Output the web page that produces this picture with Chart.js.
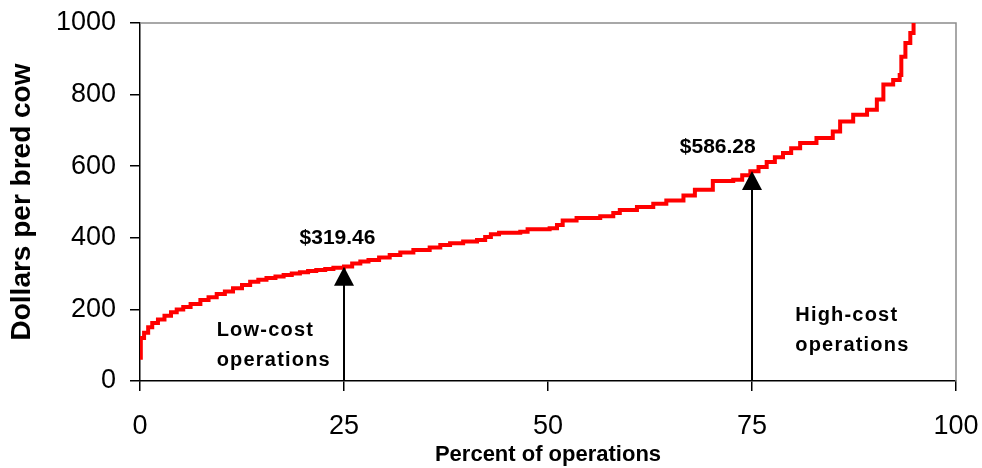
<!DOCTYPE html>
<html>
<head>
<meta charset="utf-8">
<script src="https://cdn.jsdelivr.net/npm/chart.js@4/dist/chart.umd.min.js"></script>
<style>
  html, body { margin: 0; padding: 0; background: #fff; }
  #wrap { width: 982px; height: 468px; }
</style>
</head>
<body>
<div id="wrap"><canvas id="chart"></canvas></div>
<script>
// percent of operations (sorted by cost) and cost per bred cow
const pctOps = [0, 0.1, 0.5, 1.0, 1.5, 2.2, 3.0, 3.8, 4.5, 5.3, 6.2, 7.4, 8.4, 9.4, 10.4, 11.4, 12.5,
  13.5, 14.5, 15.5, 16.6, 17.6, 18.6, 19.6, 20.6, 21.6, 22.7, 23.7, 25.0, 26.0, 27.0, 28.0, 29.3,
  30.6, 31.9, 33.5, 35.5, 36.8, 38.0, 39.6, 41.3, 42.3, 43.0, 44.0, 46.6, 47.5, 50.2, 51.1, 51.8,
  53.5, 56.4, 58.0, 58.8, 60.9, 62.9, 64.5, 66.6, 68.0, 70.2, 72.7, 73.8, 74.8, 75.8, 76.8, 77.8,
  78.8, 79.8, 80.9, 82.9, 84.9, 85.8, 87.4, 89.1, 90.3, 91.1, 92.3, 93.1, 93.3, 93.8, 94.4, 94.8];
const costPerCow = [65, 120, 135, 150, 162, 172, 182, 192, 200, 207, 215, 226, 234, 243, 250, 259, 268,
  277, 283, 288, 292, 296, 300, 304, 307, 310, 313, 316, 320, 328, 334, 338, 345,
  352, 359, 366, 373, 380, 385, 390, 394, 402, 410, 414, 417, 424, 427, 436, 448,
  455, 460, 469, 478, 486, 495, 504, 518, 534, 559, 562, 575, 586, 598, 612, 625,
  637, 650, 665, 679, 697, 725, 744, 758, 786, 828, 841, 855, 906, 944, 972, 1000];

const xTicks = [0, 25, 50, 75, 100];
const yTicks = [0, 200, 400, 600, 800, 1000];

// quartile markers
const markerPct = [25, 75];
const markerCost = [319.46, 586.28];
const markerLabels = ['$319.46', '$586.28'];

const FONT = "'Liberation Sans', Arial, sans-serif";

// grey frame on top/right, arrows and text notes
const notesPlugin = {
  id: 'notes',
  beforeDatasetsDraw(chart) {
    const { ctx, chartArea: a } = chart;
    ctx.save();
    ctx.strokeStyle = '#8c8c8c';
    ctx.lineWidth = 1.5;
    ctx.beginPath();
    ctx.moveTo(a.left, a.top);
    ctx.lineTo(a.right, a.top);
    ctx.lineTo(a.right, a.bottom);
    ctx.stroke();
    ctx.restore();
  },
  afterDatasetsDraw(chart) {
    const { ctx } = chart;
    const xs = chart.scales.x, ys = chart.scales.y;
    ctx.save();
    ctx.fillStyle = '#000';
    ctx.strokeStyle = '#000';
    markerPct.forEach((p, i) => {
      const px = xs.getPixelForValue(p);
      const tip = ys.getPixelForValue(markerCost[i]);
      const base = ys.getPixelForValue(0);
      ctx.lineWidth = 2;
      ctx.beginPath();
      ctx.moveTo(px, base);
      ctx.lineTo(px, tip + 18);
      ctx.stroke();
      ctx.beginPath();
      ctx.moveTo(px, tip);
      ctx.lineTo(px - 10, tip + 19);
      ctx.lineTo(px + 10, tip + 19);
      ctx.closePath();
      ctx.fill();
    });

    ctx.font = 'bold 21px ' + FONT;
    ctx.textBaseline = 'middle';
    ctx.textAlign = 'center';
    ctx.fillText(markerLabels[0], xs.getPixelForValue(24.2), ys.getPixelForValue(400));
    ctx.fillText(markerLabels[1], xs.getPixelForValue(70.8), ys.getPixelForValue(654));

    ctx.font = 'bold 20px ' + FONT;
    ctx.letterSpacing = '1.2px';
    ctx.textAlign = 'left';
    ctx.fillText('Low-cost', xs.getPixelForValue(9.4), ys.getPixelForValue(140));
    ctx.fillText('operations', xs.getPixelForValue(9.4), ys.getPixelForValue(56));
    ctx.fillText('High-cost', xs.getPixelForValue(80.3), ys.getPixelForValue(184));
    ctx.fillText('operations', xs.getPixelForValue(80.3), ys.getPixelForValue(100));
    ctx.restore();
  }
};

new Chart(document.getElementById('chart'), {
  type: 'line',
  data: {
    datasets: [{
      data: pctOps.map((p, i) => ({ x: p, y: costPerCow[i] })),
      borderColor: '#ff0000',
      borderWidth: 4,
      stepped: true,
      pointRadius: 0,
      fill: false
    }]
  },
  options: {
    responsive: true,
    maintainAspectRatio: false,
    animation: false,
    layout: { padding: { top: 23, right: 26, left: 0, bottom: 0 } },
    plugins: { legend: { display: false }, tooltip: { enabled: false } },
    scales: {
      x: {
        type: 'linear',
        min: 0,
        max: 100,
        afterBuildTicks: s => { s.ticks = xTicks.map(v => ({ value: v })); },
        afterFit: s => { s.height = 87; s.paddingLeft = 0; s.paddingRight = 0; },
        border: { color: '#000', width: 1.5 },
        grid: { drawOnChartArea: false, drawTicks: true, tickLength: 10, color: '#000', lineWidth: 1.5 },
        ticks: { color: '#000', padding: 19, font: { family: FONT, size: 27 }, callback: v => String(v) },
        title: {
          display: true,
          text: 'Percent of operations',
          color: '#000',
          padding: { top: 3, bottom: 0 },
          font: { family: FONT, size: 22, weight: 'bold' }
        }
      },
      y: {
        min: 0,
        max: 1000,
        afterBuildTicks: s => { s.ticks = yTicks.map(v => ({ value: v })); },
        afterFit: s => { s.width = 140; s.paddingTop = 0; s.paddingBottom = 0; },
        border: { color: '#000', width: 1.5 },
        grid: { drawOnChartArea: false, drawTicks: true, tickLength: 10, color: '#000', lineWidth: 1.5 },
        ticks: { color: '#000', padding: 14, font: { family: FONT, size: 27 }, callback: v => String(v) },
        title: {
          display: true,
          text: 'Dollars per bred cow',
          color: '#000',
          padding: { top: 5, bottom: 0 },
          font: { family: FONT, size: 28, weight: 'bold' }
        }
      }
    }
  },
  plugins: [notesPlugin]
});
</script>
</body>
</html>
